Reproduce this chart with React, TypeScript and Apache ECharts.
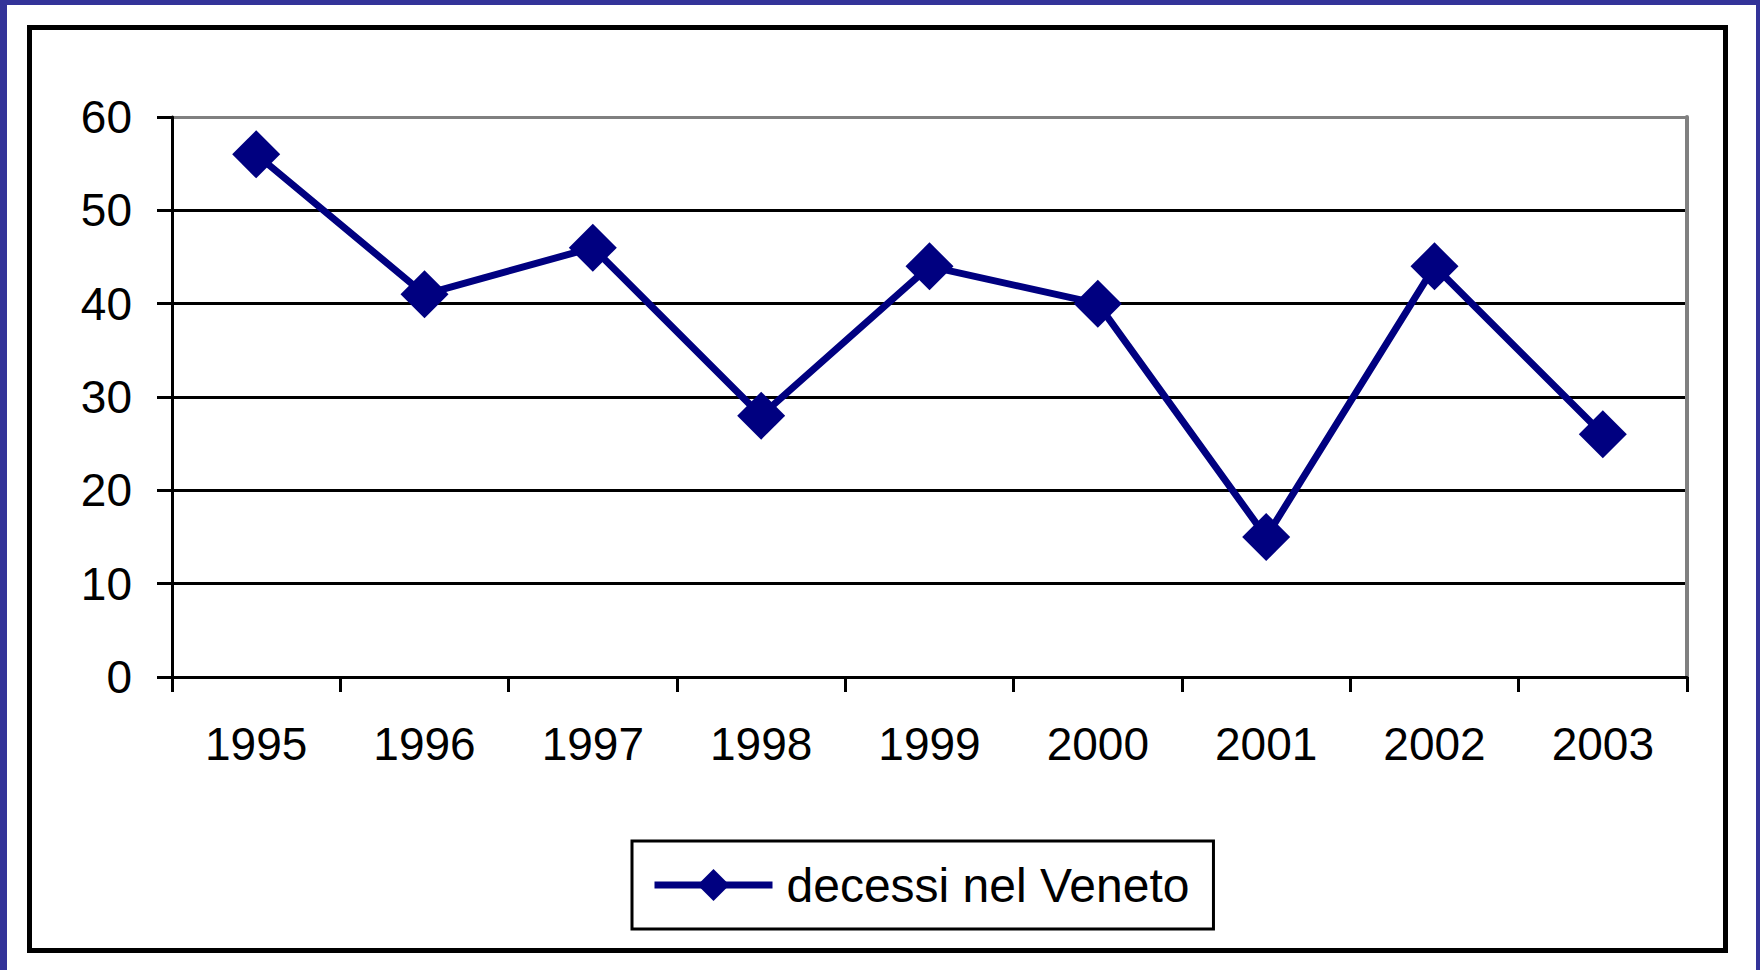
import React, { useEffect, useRef } from "react";
import * as echarts from "echarts";

const categories = ["1995", "1996", "1997", "1998", "1999", "2000", "2001", "2002", "2003"];
const decessi = [56, 41, 46, 28, 44, 40, 15, 44, 26];
const seriesName = "decessi nel Veneto";
const yMin = 0;
const yMax = 60;
const yInterval = 10;

const FONT = "'Liberation Sans', Arial, sans-serif";

export default function App() {
  const ref = useRef<HTMLDivElement>(null);
  useEffect(() => {
    document.body.style.margin = "0";
    const chart = echarts.init(ref.current!, null, { renderer: "svg" });
    chart.setOption({
      animation: false,
      backgroundColor: "#ffffff",
      grid: { left: 172, top: 117, right: 73, bottom: 293, containLabel: false },
      xAxis: {
        type: "category",
        data: categories,
        boundaryGap: true,
        axisLine: { show: true, lineStyle: { color: "#000", width: 3 } },
        axisTick: { show: true, interval: 0, length: 15, lineStyle: { color: "#000", width: 3 } },
        axisLabel: { interval: 0, margin: 44, color: "#000", fontSize: 46, fontFamily: FONT },
        splitLine: { show: false },
      },
      yAxis: [
        {
          type: "value",
          min: yMin,
          max: yMax,
          interval: yInterval,
          axisLine: { show: true, lineStyle: { color: "#000", width: 3 } },
          axisTick: { show: true, length: 15, lineStyle: { color: "#000", width: 3 } },
          axisLabel: { margin: 40, color: "#000", fontSize: 46, fontFamily: FONT },
          splitLine: {
            show: true,
            lineStyle: {
              color: ["#000", "#000", "#000", "#000", "#000", "#000", "#808080"],
              width: 3,
            },
          },
        },
        {
          type: "value",
          position: "right",
          min: yMin,
          max: yMax,
          interval: yInterval,
          axisLine: { show: true, lineStyle: { color: "#808080", width: 4 } },
          axisTick: { show: false },
          axisLabel: { show: false },
          splitLine: { show: false },
        },
      ],
      legend: {
        left: 632,
        top: 841,
        orient: "horizontal",
        padding: [20, 24, 20, 19],
        borderColor: "#000",
        borderWidth: 3,
        itemWidth: 118,
        itemHeight: 40,
        lineStyle: { width: 7, color: "#000080" },
        textStyle: { color: "#000", fontSize: 48, fontFamily: FONT, padding: [0, 0, 0, 9] },
        data: [seriesName],
      },
      series: [
        {
          name: seriesName,
          type: "line",
          data: decessi,
          yAxisIndex: 0,
          symbol: "diamond",
          symbolSize: 48,
          lineStyle: { color: "#000080", width: 7 },
          itemStyle: { color: "#000080" },
          emphasis: { disabled: true },
        },
      ],
      graphic: [
        { type: "rect", shape: { x: 0, y: 0, width: 7, height: 970 }, style: { fill: "#333399" }, z: 100 },
        { type: "rect", shape: { x: 0, y: 0, width: 1760, height: 5 }, style: { fill: "#333399" }, z: 100 },
        { type: "rect", shape: { x: 1756, y: 0, width: 4, height: 970 }, style: { fill: "#333399" }, z: 100 },
        {
          type: "rect",
          shape: { x: 29.5, y: 27.5, width: 1696, height: 923 },
          style: { fill: "none", stroke: "#000", lineWidth: 5 },
          z: 100,
        },
      ],
    });
    return () => chart.dispose();
  }, []);
  return <div ref={ref} style={{ width: 1760, height: 970 }} />;
}
